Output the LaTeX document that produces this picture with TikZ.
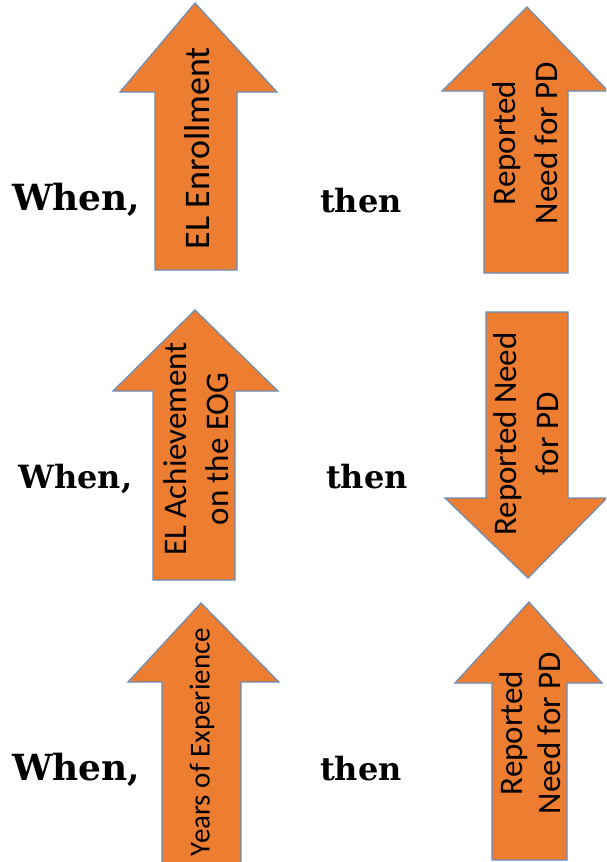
\documentclass[tikz,border=0pt]{standalone}
\usepackage{fontspec}
\newfontfamily\calib{Carlito}
\newfontfamily\slab{DejaVu Serif}
\definecolor{arrowfill}{HTML}{ED7D31}
\definecolor{arrowline}{HTML}{6A8DB8}
\begin{document}
\begin{tikzpicture}[x=1pt,y=-1pt,
  arrowshape/.style={fill=arrowfill, draw=arrowline, line width=1.2pt, line join=miter},
  arrowtext/.style={rotate=90, font=\calib\fontsize{33}{42}\selectfont, align=center, inner sep=0pt},
  word/.style={font=\slab\bfseries\fontsize{32}{40}\selectfont, anchor=base west, inner sep=0pt}]
\clip (0,0) rectangle (606,862);
\fill[white] (0,0) rectangle (606,862);
% arrows
\draw[arrowshape] (155,270) -- (155,92) -- (120,92) -- (195,3) -- (277,92) -- (237,92) -- (237,270) -- cycle;
\draw[arrowshape] (484,273) -- (484,91) -- (442,91) -- (527,7) -- (608,91) -- (568,91) -- (568,273) -- cycle;
\draw[arrowshape] (153,580) -- (153,391) -- (113,391) -- (195,310) -- (278,391) -- (235,391) -- (235,580) -- cycle;
\draw[arrowshape] (486,312) -- (568,312) -- (568,498) -- (607,498) -- (528,578) -- (445,498) -- (486,498) -- cycle;
\draw[arrowshape] (162,870) -- (162,682) -- (128,682) -- (201,603) -- (279,682) -- (241,682) -- (241,870) -- cycle;
\draw[arrowshape] (492,860) -- (492,683) -- (455,683) -- (529,602) -- (602,683) -- (567,683) -- (567,860) -- cycle;
% arrow texts
\node[arrowtext, font=\calib\fontsize{36}{42}\selectfont] (t1) at (197,148) {EL Enrollment};
\node[arrowtext] (t2) at (525,143) {Reported\\Need for PD};
\node[arrowtext] (t3) at (196,449) {EL Achievement\\on the EOG};
\node[arrowtext] (t4) at (526,434) {Reported Need\\for PD};
\node[arrowtext, font=\calib\fontsize{29}{36}\selectfont] (t5) at (202,742) {Years of Experience};
\node[arrowtext, font=\calib\fontsize{33}{38}\selectfont] (t6) at (530,733) {Reported\\Need for PD};
% words
\node[word, font=\slab\bfseries\fontsize{36}{40}\selectfont] (w1) at (12,210) {When,};
\node[word] (n1) at (320,212) {then};
\node[word] (w2) at (18,488) {When,};
\node[word] (n2) at (326,488) {then};
\node[word, font=\slab\bfseries\fontsize{36}{40}\selectfont] (w3) at (12,780) {When,};
\node[word] (n3) at (320,780) {then};
\end{tikzpicture}
\end{document}
